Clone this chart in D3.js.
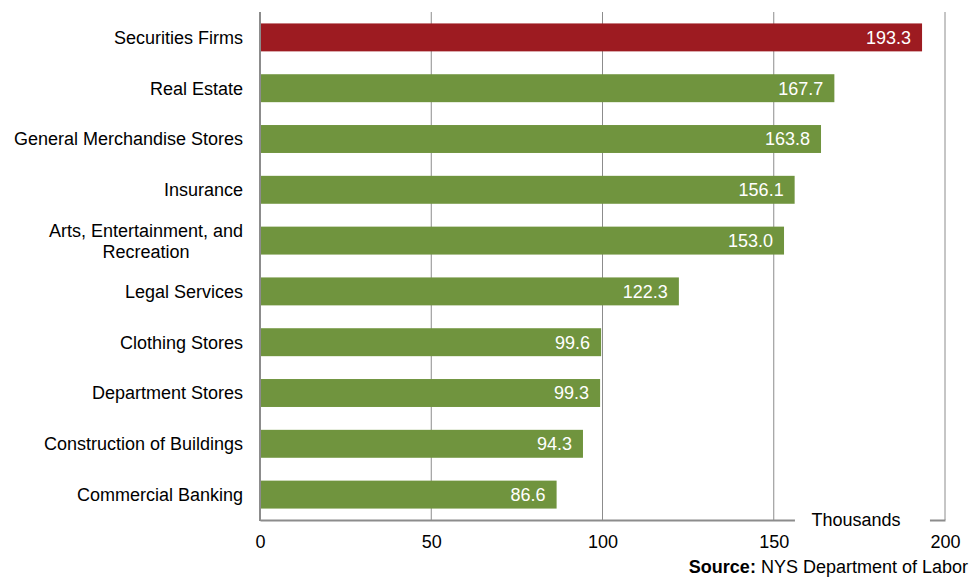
<!DOCTYPE html>
<html>
<head>
<meta charset="utf-8">
<script src="https://cdn.jsdelivr.net/npm/d3@7"></script>
<style>
  body { margin: 0; background: #fff; }
  svg { font-family: "Liberation Sans", Arial, sans-serif; }
</style>
</head>
<body>
<svg id="chart" width="973" height="579"></svg>
<script>
const categories = [
  ["Securities Firms"],
  ["Real Estate"],
  ["General Merchandise Stores"],
  ["Insurance"],
  ["Arts, Entertainment, and", "Recreation"],
  ["Legal Services"],
  ["Clothing Stores"],
  ["Department Stores"],
  ["Construction of Buildings"],
  ["Commercial Banking"],
]
const values = [193.3, 167.7, 163.8, 156.1, 153.0, 122.3, 99.6, 99.3, 94.3, 86.6]
const highlight = [true, false, false, false, false, false, false, false, false, false]
const xTicks = [0, 50, 100, 150, 200]

const svg = d3.select("#chart")
const m = {top: 12, right: 28, bottom: 59, left: 260}
const width = 973, height = 579
const iw = width - m.left - m.right
const ih = height - m.top - m.bottom
const fs = 18

const rows = categories.map((c, i) => ({key: i, label: c, v: values[i], hi: highlight[i]}))

const x = d3.scaleLinear().domain([0, 200]).range([0, iw])
const y = d3.scaleBand().domain(rows.map((d) => d.key)).range([0, ih]).paddingInner(0.45).paddingOuter(0.225)

const g = svg.append("g").attr("transform", `translate(${m.left},${m.top})`)

// gridlines
g.append("g")
  .selectAll("line")
  .data(xTicks.slice(1))
  .join("line")
  .attr("x1", (d) => x(d))
  .attr("x2", (d) => x(d))
  .attr("y1", 0)
  .attr("y2", ih)
  .attr("stroke", "#8c8c8c")
  .attr("stroke-width", 1)

// bars
g.append("g")
  .selectAll("rect")
  .data(rows)
  .join("rect")
  .attr("x", 0)
  .attr("y", (d) => y(d.key))
  .attr("width", (d) => x(d.v))
  .attr("height", y.bandwidth())
  .attr("fill", (d) => (d.hi ? "#9d1b21" : "#70943e"))

// value labels
g.append("g")
  .selectAll("text")
  .data(rows)
  .join("text")
  .attr("x", (d) => x(d.v) - 11)
  .attr("y", (d) => y(d.key) + y.bandwidth() / 2)
  .attr("dy", "0.36em")
  .attr("text-anchor", "end")
  .attr("font-size", fs)
  .attr("fill", "#fff")
  .text((d) => d.v.toFixed(1))

// bottom axis
const xAxis = g.append("g")
  .attr("transform", `translate(0,${ih})`)
  .call(d3.axisBottom(x).tickValues(xTicks).tickSize(0).tickPadding(15))
xAxis.select(".domain").attr("stroke", "#8c8c8c").attr("stroke-width", 2)
xAxis.selectAll("text").attr("font-size", fs).attr("fill", "#000").attr("font-family", "Liberation Sans, Arial, sans-serif")

// left axis line
g.append("line")
  .attr("x1", 0).attr("x2", 0)
  .attr("y1", 0).attr("y2", ih + 1)
  .attr("stroke", "#8c8c8c")
  .attr("stroke-width", 2)

// category labels
const labels = g.append("g")
  .selectAll("text")
  .data(rows)
  .join("text")
  .attr("font-size", fs)
  .attr("fill", "#000")

labels.each(function (d) {
  const t = d3.select(this)
  const n = d.label.length
  d.label.forEach((line, i) => {
    t.append("tspan")
      .attr("x", -17)
      .attr("y", y(d.key) + y.bandwidth() / 2 + (i - (n - 1) / 2) * 21)
      .attr("dy", "0.36em")
      .attr("text-anchor", n > 1 ? "middle" : "end")
      .text(line)
  })
})
// multi-line label is centered on its block, right edge aligned to others
labels.filter((d) => d.label.length > 1).each(function () {
  const bb = this.getBBox()
  const shift = -17 - (bb.x + bb.width)
  d3.select(this).selectAll("tspan").attr("x", -17 + shift)
})

// units label breaking the axis line
const unit = g.append("g").attr("transform", `translate(${x(174)},${ih})`)
unit.append("rect").attr("x", -61).attr("y", -10).attr("width", 135).attr("height", 20).attr("fill", "#fff")
unit.append("text")
  .attr("x", 0)
  .attr("dy", "0.36em")
  .attr("text-anchor", "middle")
  .attr("font-size", fs)
  .attr("fill", "#000")
  .text("Thousands")

// source
const src = svg.append("text")
  .attr("x", 968)
  .attr("y", 573)
  .attr("text-anchor", "end")
  .attr("font-size", fs)
  .attr("fill", "#000")
src.append("tspan").attr("font-weight", "bold").text("Source:")
src.append("tspan").text(" NYS Department of Labor")
</script>
</body>
</html>
